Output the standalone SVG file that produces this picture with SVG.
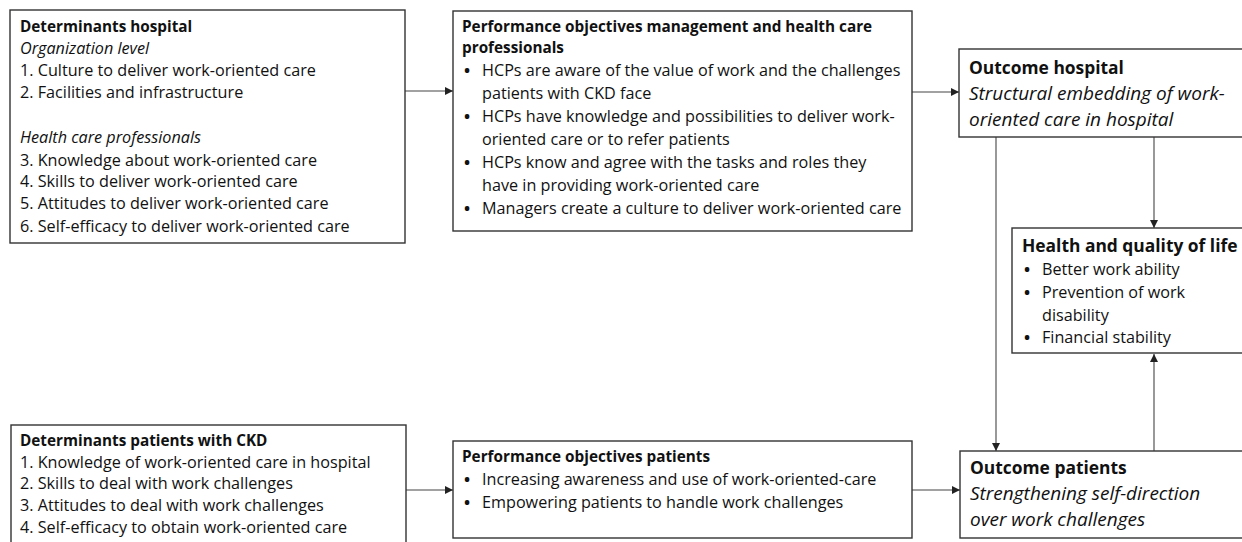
<svg xmlns="http://www.w3.org/2000/svg" width="1242" height="542" viewBox="0 0 1242 542">
<defs>
<marker id="ah" viewBox="0 0 10 10" refX="10" refY="5" markerWidth="8" markerHeight="8" markerUnits="userSpaceOnUse" orient="auto">
<path d="M0,0 L10,5 L0,10 z" fill="#222"/>
</marker>
<style>
.box{fill:#fff;stroke:#333;stroke-width:1.4}
.t{font-family:"Open Sans","Liberation Sans",Arial,sans-serif;font-size:16.2px;fill:#111}
.b{font-weight:bold;font-size:15.3px}
.i{font-style:italic}
.big{font-size:19px}
.bb{font-weight:bold;font-size:17.4px}
.bu{font-family:"Open Sans","Liberation Sans",Arial,sans-serif;font-size:16.2px;font-weight:bold;fill:#111}
.c{stroke:#444;stroke-width:1.1;fill:none}
</style>
</defs>
<rect width="1242" height="542" fill="#fff"/>
<g id="connectors">
<line class="c" x1="405" y1="91" x2="453" y2="91" marker-end="url(#ah)"/>
<line class="c" x1="912" y1="92" x2="959" y2="92" marker-end="url(#ah)"/>
<line class="c" x1="1154" y1="137" x2="1154" y2="228" marker-end="url(#ah)"/>
<line class="c" x1="996" y1="137" x2="996" y2="451" marker-end="url(#ah)"/>
<line class="c" x1="1154" y1="451" x2="1154" y2="354" marker-end="url(#ah)"/>
<line class="c" x1="406" y1="490" x2="453" y2="490" marker-end="url(#ah)"/>
<line class="c" x1="912" y1="490" x2="960" y2="490" marker-end="url(#ah)"/>
</g>
<g id="det-hospital">
<rect class="box" x="10" y="10" width="395" height="233"/>
<text class="t b" x="20" y="32">Determinants hospital</text>
<text class="t i" x="20" y="54">Organization level</text>
<text class="t" x="20" y="76">1. Culture to deliver work-oriented care</text>
<text class="t" x="20" y="98">2. Facilities and infrastructure</text>
<text class="t i" x="20" y="143">Health care professionals</text>
<text class="t" x="20" y="166">3. Knowledge about work-oriented care</text>
<text class="t" x="20" y="187">4. Skills to deliver work-oriented care</text>
<text class="t" x="20" y="209">5. Attitudes to deliver work-oriented care</text>
<text class="t" x="20" y="232">6. Self-efficacy to deliver work-oriented care</text>
</g>
<g id="perf-hcp">
<rect class="box" x="453" y="11" width="459" height="220"/>
<text class="t b" x="462" y="32">Performance objectives management and health care</text>
<text class="t b" x="462" y="53">professionals</text>
<text class="bu" x="464" y="76">•</text><text class="t" x="482" y="76">HCPs are aware of the value of work and the challenges</text>
<text class="t" x="482" y="99">patients with CKD face</text>
<text class="bu" x="464" y="122">•</text><text class="t" x="482" y="122">HCPs have knowledge and possibilities to deliver work-</text>
<text class="t" x="482" y="145">oriented care or to refer patients</text>
<text class="bu" x="464" y="168">•</text><text class="t" x="482" y="168">HCPs know and agree with the tasks and roles they</text>
<text class="t" x="482" y="191">have in providing  work-oriented care</text>
<text class="bu" x="464" y="214">•</text><text class="t" x="482" y="214">Managers create a culture to deliver work-oriented care</text>
</g>
<g id="outcome-hospital">
<rect class="box" x="959" y="49" width="290" height="88"/>
<text class="t bb" x="969" y="74">Outcome hospital</text>
<text class="t i big" x="969" y="100">Structural embedding of work-</text>
<text class="t i big" x="969" y="126">oriented care in hospital</text>
</g>
<g id="health-qol">
<rect class="box" x="1012" y="228" width="240" height="125"/>
<text class="t bb" x="1022" y="252">Health and quality of life</text>
<text class="bu" x="1024" y="275">•</text><text class="t" x="1042" y="275">Better work ability</text>
<text class="bu" x="1024" y="298">•</text><text class="t" x="1042" y="298">Prevention of work</text>
<text class="t" x="1042" y="321">disability</text>
<text class="bu" x="1024" y="343">•</text><text class="t" x="1042" y="343">Financial stability</text>
</g>
<g id="det-patients">
<rect class="box" x="11" y="425" width="395" height="130"/>
<text class="t b" x="20" y="446">Determinants patients with CKD</text>
<text class="t" x="20" y="468">1. Knowledge of work-oriented care in hospital</text>
<text class="t" x="20" y="489">2. Skills to deal with work challenges</text>
<text class="t" x="20" y="511">3. Attitudes to deal with work challenges</text>
<text class="t" x="20" y="533">4. Self-efficacy to obtain work-oriented care</text>
</g>
<g id="perf-patients">
<rect class="box" x="453" y="441" width="459" height="97"/>
<text class="t b" x="462" y="462">Performance objectives patients</text>
<text class="bu" x="464" y="485">•</text><text class="t" x="482" y="485">Increasing awareness and use of work-oriented-care</text>
<text class="bu" x="464" y="508">•</text><text class="t" x="482" y="508">Empowering patients to handle work challenges</text>
</g>
<g id="outcome-patients">
<rect class="box" x="960" y="451" width="290" height="87"/>
<text class="t bb" x="970" y="474">Outcome patients</text>
<text class="t i big" x="970" y="500">Strengthening self-direction</text>
<text class="t i big" x="970" y="526">over work challenges</text>
</g>
</svg>
